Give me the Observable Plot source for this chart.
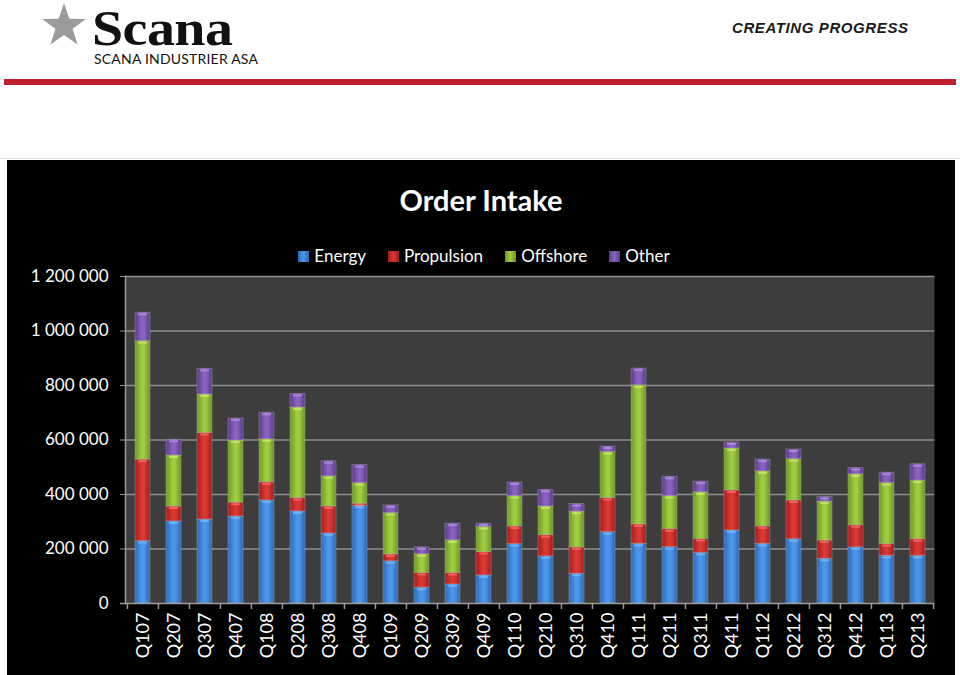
<!DOCTYPE html>
<html><head><meta charset="utf-8">
<script src="https://cdn.jsdelivr.net/npm/d3@7"></script>
<script src="https://cdn.jsdelivr.net/npm/@observablehq/plot@0.6"></script>
<style>
html,body{margin:0;padding:0}
body{width:960px;height:675px;background:#fff;position:relative;overflow:hidden;font-family:Lato,"Open Sans",sans-serif}
#star{position:absolute;left:0;top:0}
#logo{position:absolute;left:92px;top:8px;font-family:"Liberation Serif",serif;font-weight:bold;font-size:50px;letter-spacing:-0.5px;color:#111;line-height:40px;height:40px;transform-origin:0 0;transform:scaleX(1.12)}
#sub{position:absolute;left:94px;top:50px;font-family:Lato,sans-serif;font-size:14px;color:#111;letter-spacing:0.2px;line-height:17px}
#slogan{position:absolute;left:732px;top:19px;font-family:"Liberation Sans",sans-serif;font-weight:900;font-style:italic;font-size:15px;color:#1a1a1a;letter-spacing:0.6px;line-height:18px}
#redbar{position:absolute;left:4px;top:79px;width:952px;height:6px;background:#c0202e}
#grayline{position:absolute;left:0;top:158px;width:960px;height:1px;background:#e4e4e4}
#panel{position:absolute;left:7px;top:160px;width:948px;height:515px;background:#000}
#title{position:absolute;left:0;top:22px;width:948px;text-align:center;color:#fff;font-family:Lato,sans-serif;font-weight:bold;font-size:29px;line-height:36px}
#legend{position:absolute;left:0;top:84px;width:948px;display:flex;justify-content:center;gap:22px;color:#fff;font-family:Lato,sans-serif;font-size:17px;line-height:24px;padding-left:6px;box-sizing:border-box}
#legend .item{display:flex;align-items:center;gap:5px}
#legend .sw{width:11px;height:11px;display:inline-block}
#chart{position:absolute;left:0;top:0}
</style></head>
<body>
<svg id="star" width="100" height="50"><polygon id="starpoly" fill="#9b9b9b"></polygon></svg>
<div id="logo">Scana</div>
<div id="sub">SCANA INDUSTRIER ASA</div>
<div id="slogan">CREATING PROGRESS</div>
<div id="redbar"></div>
<div id="grayline"></div>
<div id="panel">
  <div id="chart"></div>
  <div id="title">Order Intake</div>
  <div id="legend"></div>
</div>
<svg width="0" height="0" style="position:absolute">
  <defs id="grads"></defs>
</svg>
<script>
const quarters = ["Q107","Q207","Q307","Q407","Q108","Q208","Q308","Q408","Q109","Q209","Q309","Q409","Q110","Q210","Q310","Q410","Q111","Q211","Q311","Q411","Q112","Q212","Q312","Q412","Q113","Q213"];
const seriesNames = ["Energy","Propulsion","Offshore","Other"];
const energy     = [229000,301000,308000,319000,378000,338000,257000,359000,155000,58000,70000,103000,218000,173000,109000,262000,219000,207000,186000,268000,219000,236000,164000,206000,175000,175000];
const propulsion = [299000,55000,318000,51000,67000,49000,99000,7000,25000,54000,42000,86000,65000,78000,97000,125000,71000,66000,51000,147000,64000,142000,67000,81000,43000,61000];
const offshore   = [435000,187000,141000,228000,158000,332000,111000,76000,152000,69000,120000,92000,111000,105000,131000,169000,511000,121000,171000,154000,202000,152000,143000,187000,224000,215000];
const other      = [104000,58000,94000,81000,97000,50000,55000,66000,28000,25000,61000,12000,50000,61000,28000,20000,61000,71000,39000,22000,43000,35000,17000,23000,38000,60000];
const yTicks = [0,200000,400000,600000,800000,1000000,1200000];

const seriesColors = {
  Energy:     ["#2a69bd","#4d97ea","#2a66b6"],
  Propulsion: ["#a61d1d","#d93933","#a31c1c"],
  Offshore:   ["#6e9a22","#a0cc42","#6b9620"],
  Other:      ["#5c3b8a","#8a63c0","#5a3a88"]
};
const highlight = {Energy: "#8cc8ff", Propulsion: "#ff8a80", Offshore: "#e6f58a", Other: "#c6a8f0"};

// logo star
(function () {
  const cx = 64, cy = 26, R = 23, r = 9;
  const pts = [];
  for (let k = 0; k < 10; k++) {
    const a = -Math.PI / 2 + k * Math.PI / 5;
    const rad = k % 2 ? r : R;
    pts.push((cx + rad * Math.cos(a)).toFixed(1) + "," + (cy + rad * Math.sin(a)).toFixed(1));
  }
  document.getElementById("starpoly").setAttribute("points", pts.join(" "));
})();

// gradients
const defs = document.getElementById("grads");
const ns = "http://www.w3.org/2000/svg";
seriesNames.forEach((s, i) => {
  const g = document.createElementNS(ns, "linearGradient");
  g.setAttribute("id", "g" + i);
  g.setAttribute("x1", "0"); g.setAttribute("x2", "1"); g.setAttribute("y1", "0"); g.setAttribute("y2", "0");
  const c = seriesColors[s];
  [[0, c[0]], [0.45, c[1]], [0.6, c[1]], [1, c[2]]].forEach(([o, col]) => {
    const st = document.createElementNS(ns, "stop");
    st.setAttribute("offset", o);
    st.setAttribute("stop-color", col);
    g.appendChild(st);
  });
  defs.appendChild(g);
});

const seriesValues = [energy, propulsion, offshore, other];
const data = [];
quarters.forEach((q, qi) => {
  seriesNames.forEach((s, si) => data.push({quarter: q, series: s, value: seriesValues[si][qi]}));
});

const W = 948, H = 515, mL = 118, mR = 21, mT = 116, mB = 72;
const step = (W - mL - mR) / quarters.length;
const fmt = v => d3.format(",")(v).replace(/,/g, " ");

const chart = Plot.plot({
  width: W, height: H,
  marginLeft: mL, marginRight: mR, marginTop: mT, marginBottom: mB,
  style: {background: "transparent", color: "#fff", fontFamily: "Lato, sans-serif", fontSize: "17px"},
  x: {domain: quarters, paddingInner: 0.52, paddingOuter: 0.26, label: null},
  y: {domain: [0, 1200000], label: null},
  color: {domain: seriesNames, range: seriesNames.map((s, i) => `url(#g${i})`)},
  marks: [
    Plot.frame({fill: "#3d3d3d", stroke: null}),
    Plot.ruleY(yTicks.slice(1), {stroke: "#8e8e8e", strokeWidth: 1.5}),
    Plot.barY(data, {x: "quarter", y: "value", fill: "series", stroke: "#cfcfcf", strokeOpacity: 0.3, strokeWidth: 1}),
    Plot.tickY(data, Plot.stackY2({x: "quarter", y: "value", stroke: d => highlight[d.series], strokeWidth: 2, strokeOpacity: 0.55, dy: 1.5, insetLeft: 3, insetRight: 3})),
    Plot.ruleY([0], {stroke: "#9a9a9a", strokeWidth: 1.5, insetLeft: -5}),
    Plot.frame({anchor: "left", stroke: "#9a9a9a", strokeWidth: 1.5}),
    Plot.ruleX(quarters, {x: d => d, dx: -step / 2, y1: 0, y2: 0, insetBottom: -6, stroke: "#9a9a9a", strokeWidth: 1.5}),
    Plot.ruleX(quarters.slice(-1), {x: d => d, dx: step / 2, y1: 0, y2: 0, insetBottom: -6, stroke: "#9a9a9a", strokeWidth: 1.5}),
    Plot.axisY({ticks: yTicks, tickFormat: fmt, tickSize: 5, tickPadding: 12, stroke: "#9a9a9a", fill: "#fff", fontSize: 17, label: null}),
    Plot.axisX({tickSize: 0, tickPadding: 9, tickRotate: -90, fill: "#fff", fontSize: 18, label: null})
  ]
});
document.getElementById("chart").appendChild(chart);

// legend
const leg = document.getElementById("legend");
seriesNames.forEach((s, i) => {
  const it = document.createElement("div");
  it.className = "item";
  const sw = document.createElement("span");
  sw.className = "sw";
  const c = seriesColors[s];
  sw.style.background = `linear-gradient(to right, ${c[0]}, ${c[1]}, ${c[2]})`;
  const t = document.createElement("span");
  t.textContent = s;
  it.appendChild(sw); it.appendChild(t);
  leg.appendChild(it);
});
</script>
</body></html>
